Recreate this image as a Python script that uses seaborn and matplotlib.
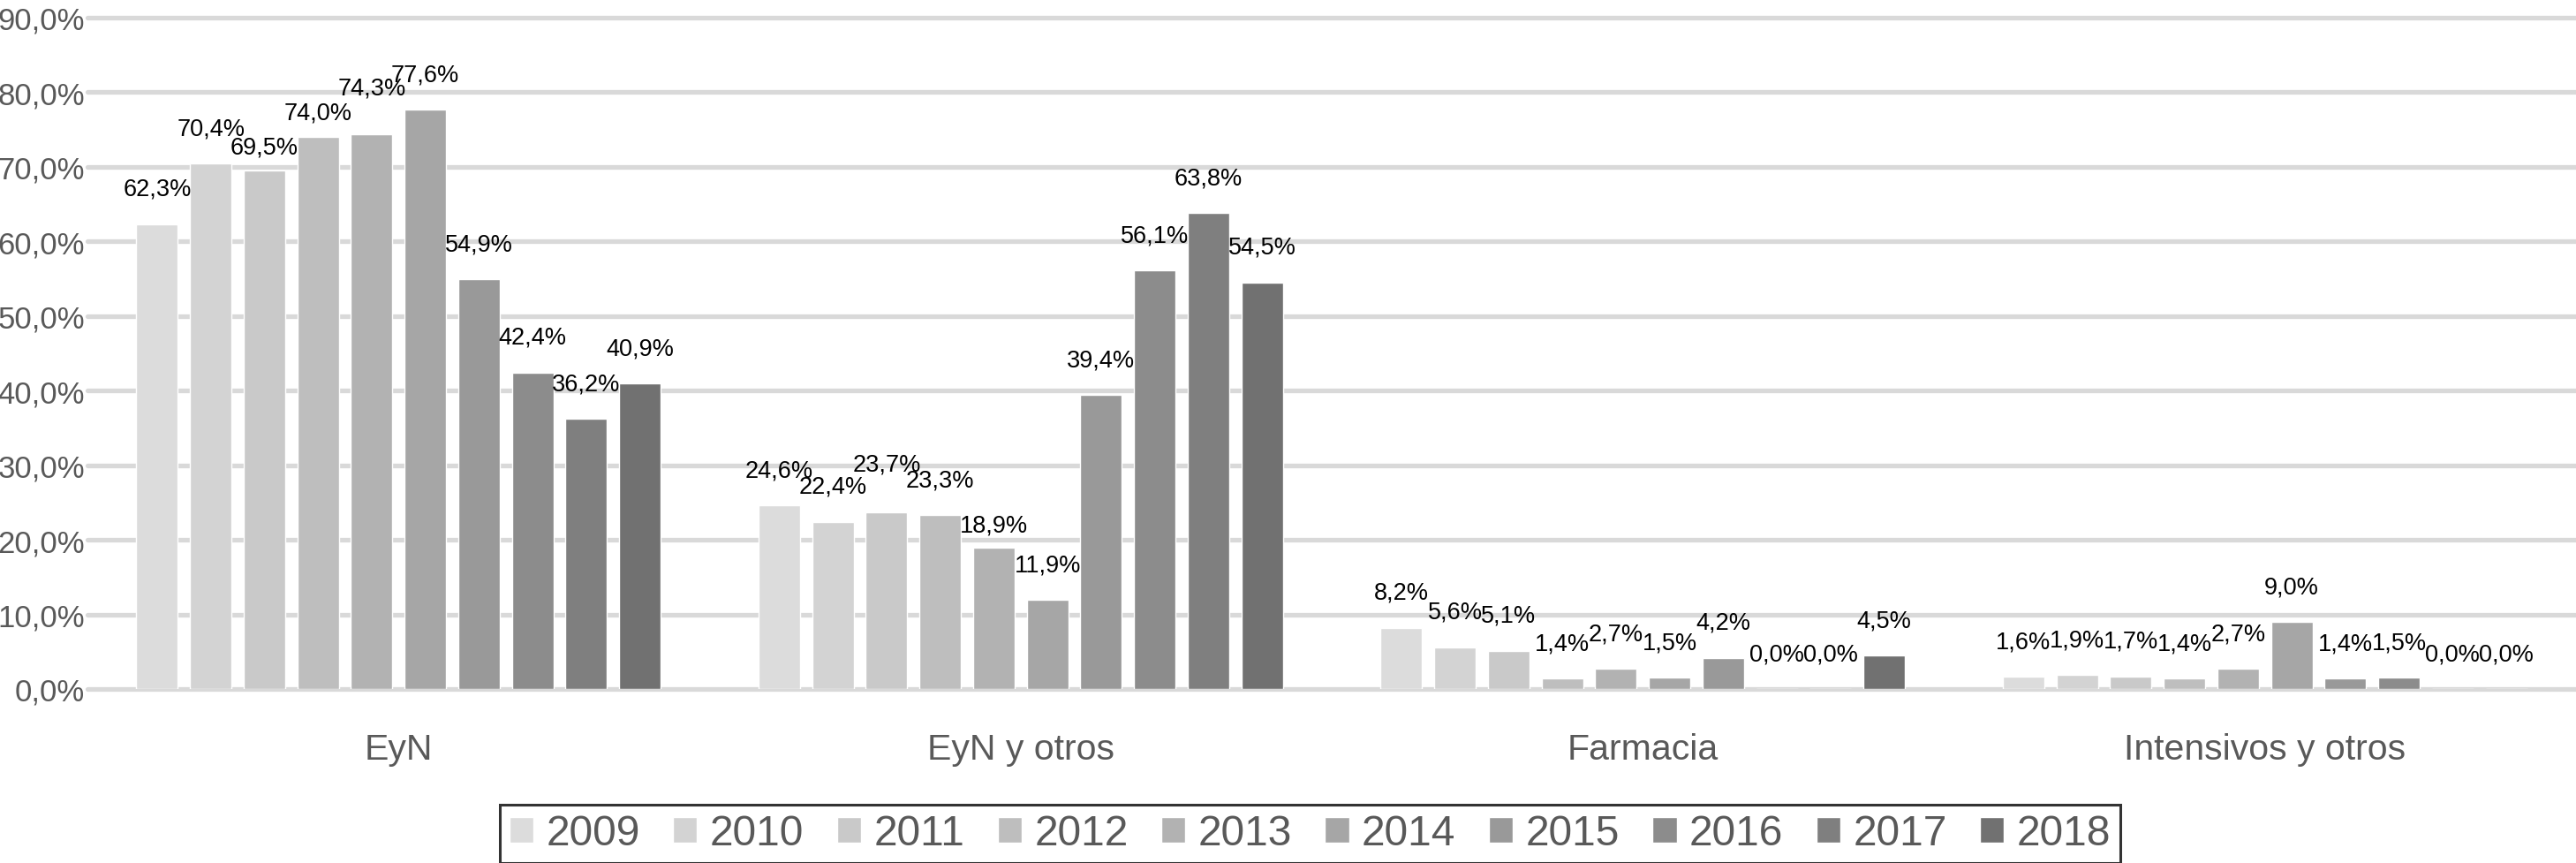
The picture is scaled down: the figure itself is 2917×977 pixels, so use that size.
import matplotlib
matplotlib.use("Agg")
import matplotlib.pyplot as plt
import seaborn as sns
import pandas as pd

categories = ["EyN", "EyN y otros", "Farmacia", "Intensivos y otros"]
years = ["2009", "2010", "2011", "2012", "2013", "2014", "2015", "2016", "2017", "2018"]
eyn = [62.3, 70.4, 69.5, 74.0, 74.3, 77.6, 54.9, 42.4, 36.2, 40.9]
eyn_otros = [24.6, 22.4, 23.7, 23.3, 18.9, 11.9, 39.4, 56.1, 63.8, 54.5]
farmacia = [8.2, 5.6, 5.1, 1.4, 2.7, 1.5, 4.2, 0.0, 0.0, 4.5]
intensivos = [1.6, 1.9, 1.7, 1.4, 2.7, 9.0, 1.4, 1.5, 0.0, 0.0]
y_ticks = [0, 10, 20, 30, 40, 50, 60, 70, 80, 90]

colors = ["#DCDCDC", "#D3D3D3", "#C9C9C9", "#BEBEBE", "#B2B2B2",
          "#A6A6A6", "#999999", "#8C8C8C", "#7F7F7F", "#717171"]

series = [eyn, eyn_otros, farmacia, intensivos]
rows = []
for cat, vals in zip(categories, series):
    for yr, v in zip(years, vals):
        rows.append({"cat": cat, "year": yr, "val": v})
df = pd.DataFrame(rows)

sns.set_theme(style="white")
plt.rcParams["font.family"] = ["Liberation Sans", "DejaVu Sans"]

W, H = 2917, 978
fig = plt.figure(figsize=(W / 100, H / 100), dpi=100)
ax_left, ax_right = 99, 2917
ax_top, ax_bot = 20.7, 781
ax = fig.add_axes([ax_left / W, 1 - ax_bot / H, (ax_right - ax_left) / W, (ax_bot - ax_top) / H])

sns.barplot(data=df, x="cat", y="val", hue="year", order=categories, hue_order=years,
            palette=colors, width=0.862, gap=0.226, dodge=True, saturation=1,
            ax=ax, errorbar=None)

ax.set_ylim(0, 90)
ax.set_xlim(-0.5, 3.5)
ax.set_yticks(y_ticks)
ax.set_yticklabels([f"{t:.1f}%".replace(".", ",") for t in y_ticks])
for sp in ax.spines.values():
    sp.set_visible(False)
ax.grid(False)
for t in y_ticks:
    ax.axhline(t, color="#D9D9D9", lw=3.8, zorder=0, clip_on=False)
ax.set_axisbelow(True)
ax.tick_params(axis="y", length=0, pad=2, labelsize=25, labelcolor="#595959")
ax.tick_params(axis="x", length=0, pad=35, labelsize=29.5, labelcolor="#595959")
ax.set_xlabel("")
ax.set_ylabel("")

# label nudges (pixels, + is up) to mimic the overlap-avoidance in the original
nudges = {("EyN", "2011"): -14, ("EyN", "2012"): -13, ("EyN", "2013"): 13,
          ("EyN y otros", "2011"): 14, ("EyN y otros", "2013"): -14}

for yr, cont in zip(years, ax.containers):
    vals = [df[(df.cat == c) & (df.year == yr)].val.iloc[0] for c in categories]
    labels = [f"{v:.1f}%".replace(".", ",") for v in vals]
    anns = ax.bar_label(cont, labels=labels, padding=19.4, fontsize=19.5, color="black")
    for c, a in zip(categories, anns):
        dy = nudges.get((c, yr), 0)
        if dy:
            x0, y0 = a.xyann
            a.xyann = (x0, y0 + dy * 0.72)

handles, labs = ax.get_legend_handles_labels()
if ax.get_legend() is not None:
    ax.get_legend().remove()
leg = fig.legend(handles, labs, loc="center", bbox_to_anchor=(1483.5 / W, 1 - 945 / H),
                 ncol=10, fontsize=34.5, frameon=True, fancybox=False,
                 handlelength=0.57, handleheight=0.57, handletextpad=0.3,
                 columnspacing=0.78, borderpad=0.22, borderaxespad=0)
leg.get_frame().set_edgecolor("black")
leg.get_frame().set_linewidth(2.2)
for t in leg.get_texts():
    t.set_color("#595959")

fig.savefig("out.png", dpi=100, facecolor="white")
